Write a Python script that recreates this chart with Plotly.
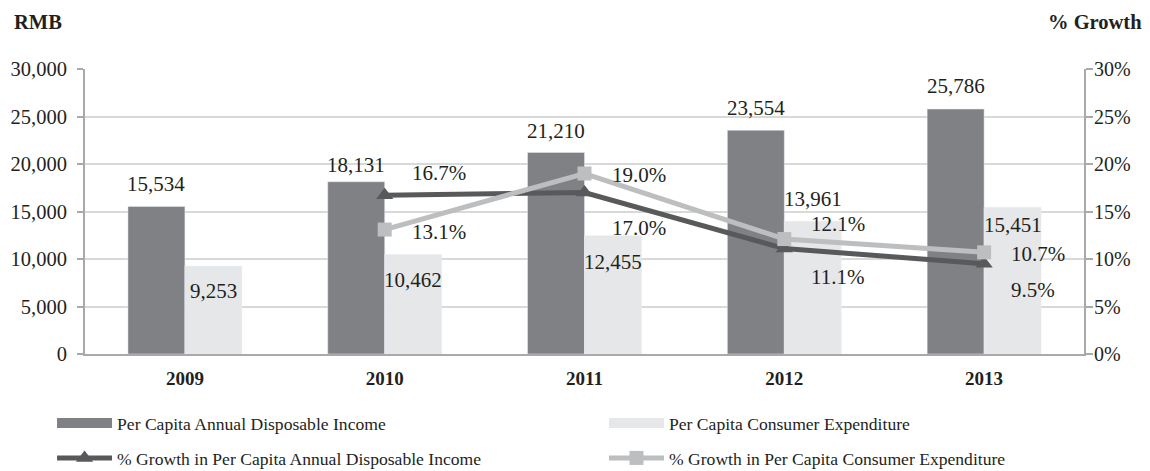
import plotly.graph_objects as go

years = ["2009", "2010", "2011", "2012", "2013"]
income = [15534, 18131, 21210, 23554, 25786]
expenditure = [9253, 10462, 12455, 13961, 15451]
income_growth = [None, 16.7, 17.0, 11.1, 9.5]
expend_growth = [None, 13.1, 19.0, 12.1, 10.7]
left_ticks = [0, 5000, 10000, 15000, 20000, 25000, 30000]
right_ticks = [0, 5, 10, 15, 20, 25, 30]

names = [
    "Per Capita Annual Disposable Income",
    "Per Capita Consumer Expenditure",
    "% Growth in Per Capita Annual Disposable Income",
    "% Growth in Per Capita Consumer Expenditure",
]

# style
C_DARK_BAR = "#808184"
C_LIGHT_BAR = "#e6e7e8"
C_DARK_LINE = "#58595b"
C_LIGHT_LINE = "#bcbec0"
TXT = "#231f20"
AXIS = "#a7a9ac"
GRID = "#d9d9d9"
FONT = "Liberation Serif"
BARGAP = 0.43
half_off = (1 - BARGAP) / 4  # centre offset of each bar within a category

# label offsets (pixels, up positive)
income_lbl_dy = [22, 17, 22, 22, 23]
expend_lbl_dy = [-25, -25, -26, 22, -18]
inc_g_lbl_dy = [0, 22, -35, -28, -26]
exp_g_lbl_dy = [0, -2, -1, 15, -2]

fig = go.Figure()
fig.add_trace(go.Bar(x=years, y=income, marker_color=C_DARK_BAR, showlegend=False,
                     hoverinfo="skip"))
fig.add_trace(go.Bar(x=years, y=expenditure, marker_color=C_LIGHT_BAR, showlegend=False,
                     hoverinfo="skip"))
# legend proxies for the bars
fig.add_trace(go.Scatter(x=[None], y=[None], mode="lines", name=names[0],
                         line=dict(color=C_DARK_BAR, width=11), legend="legend"))
fig.add_trace(go.Scatter(x=[None], y=[None], mode="lines", name=names[1],
                         line=dict(color=C_LIGHT_BAR, width=11), legend="legend2"))
fig.add_trace(go.Scatter(x=years, y=income_growth, yaxis="y2", mode="lines+markers",
                         name=names[2], line=dict(color=C_DARK_LINE, width=5),
                         marker=dict(symbol="triangle-up", size=15, color=C_DARK_LINE),
                         legend="legend3"))
fig.add_trace(go.Scatter(x=years, y=expend_growth, yaxis="y2", mode="lines+markers",
                         name=names[3], line=dict(color=C_LIGHT_LINE, width=5),
                         marker=dict(symbol="square", size=14, color=C_LIGHT_LINE),
                         legend="legend4"))

ann = []
for i, v in enumerate(income):
    ann.append(dict(x=i - half_off, y=v, xref="x", yref="y", text=f"{v:,}",
                    showarrow=False, yanchor="middle", yshift=income_lbl_dy[i]))
for i, v in enumerate(expenditure):
    ann.append(dict(x=i + half_off, y=v, xref="x", yref="y", text=f"{v:,}",
                    showarrow=False, yanchor="middle", yshift=expend_lbl_dy[i]))
for i, v in enumerate(income_growth):
    if v is None:
        continue
    ann.append(dict(x=i, y=v, xref="x", yref="y2", text=f"{v:.1f}%", showarrow=False,
                    xanchor="left", xshift=25, yanchor="middle", yshift=inc_g_lbl_dy[i]))
for i, v in enumerate(expend_growth):
    if v is None:
        continue
    ann.append(dict(x=i, y=v, xref="x", yref="y2", text=f"{v:.1f}%", showarrow=False,
                    xanchor="left", xshift=25, yanchor="middle", yshift=exp_g_lbl_dy[i]))
ann.append(dict(x=0, y=1, xref="paper", yref="paper", xanchor="left", yanchor="middle",
                xshift=-73, yshift=47, text="<b>RMB</b>", showarrow=False,
                font=dict(size=20.5)))
ann.append(dict(x=1, y=1, xref="paper", yref="paper", xanchor="right", yanchor="middle",
                xshift=60, yshift=47, text="<b>% Growth</b>", showarrow=False,
                font=dict(size=20.5)))

legend_common = dict(orientation="h", xanchor="left", yanchor="middle",
                     yref="container", font=dict(size=17.6), itemwidth=55,
                     bgcolor="rgba(0,0,0,0)")
COL1_X, COL2_X = -0.033, 0.5195
ROW1_Y, ROW2_Y = 1 - 423 / 471, 1 - 458 / 471

fig.update_layout(
    width=1150, height=471,
    margin=dict(l=85, r=66, t=69, b=117),
    paper_bgcolor="white", plot_bgcolor="white",
    font=dict(family=FONT, size=21, color=TXT),
    barmode="group", bargap=BARGAP, bargroupgap=0,
    annotations=ann,
    xaxis=dict(type="category", showline=True, linecolor=AXIS, linewidth=2,
               ticks="", tickfont=dict(size=19), ticklabelstandoff=6,
               tickvals=years, ticktext=[f"<b>{y}</b>" for y in years]),
    yaxis=dict(range=[0, 30000], tickvals=left_ticks,
               ticktext=[f"{v:,}" for v in left_ticks], tickfont=dict(size=20.5),
               showgrid=True, gridcolor=GRID, gridwidth=2,
               showline=True, linecolor=AXIS, linewidth=2,
               ticks="outside", ticklen=6, tickcolor=AXIS, tickwidth=2,
               ticklabelstandoff=6, zeroline=False),
    yaxis2=dict(range=[0, 30], tickvals=right_ticks,
                ticktext=[f"{v}%" for v in right_ticks], tickfont=dict(size=20),
                overlaying="y", side="right", showgrid=False,
                showline=True, linecolor=AXIS, linewidth=2,
                ticks="outside", ticklen=7, tickcolor=AXIS, tickwidth=2,
                ticklabelstandoff=-3, zeroline=False),
    legend=dict(legend_common, x=COL1_X, y=ROW1_Y),
    legend2=dict(legend_common, x=COL2_X, y=ROW1_Y),
    legend3=dict(legend_common, x=COL1_X, y=ROW2_Y),
    legend4=dict(legend_common, x=COL2_X, y=ROW2_Y),
    showlegend=True,
)

fig.write_html("out.html")
